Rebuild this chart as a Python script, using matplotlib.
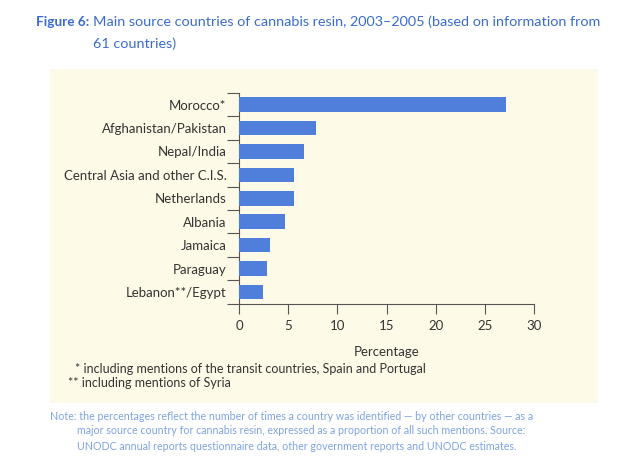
import matplotlib
matplotlib.use("Agg")
import matplotlib.pyplot as plt
from matplotlib.patches import Rectangle
import numpy as np

countries = ["Morocco*", "Afghanistan/Pakistan", "Nepal/India",
             "Central Asia and other C.I.S.", "Netherlands", "Albania",
             "Jamaica", "Paraguay", "Lebanon**/Egypt"]
values = [27.2, 7.8, 6.6, 5.6, 5.6, 4.7, 3.2, 2.8, 2.4]
xticks = [0, 5, 10, 15, 20, 25, 30]

plt.rcParams['font.family'] = ['Lato', 'DejaVu Sans']

W, H = 636, 469
fig = plt.figure(figsize=(W/100, H/100), dpi=100)
fig.patch.set_facecolor('white')

# cream panel in a background axes
bg = fig.add_axes([0, 0, 1, 1], zorder=-10)
bg.set_xlim(0, W)
bg.set_ylim(H, 0)
bg.axis('off')
bg.add_patch(Rectangle((50, 69), 598-50, 403-69, facecolor='#FEFAE8', edgecolor='none'))

ax = fig.add_axes([239/W, 1-303.6/H, (534-239)/W, (303.6-93)/H], zorder=1)
ax.set_facecolor('none')
n = len(countries)
y = np.arange(n)
ax.barh(y, values, height=0.62, color='#4F7FDB', zorder=3)
ax.set_ylim(n-0.5, -0.5)
ax.set_xlim(0, 30)
ax.set_xticks(xticks)
ax.set_xticklabels([str(t) for t in xticks])
ax.set_yticks(y)
ax.set_yticklabels(countries)
ax.set_yticks(np.arange(-0.5, n, 1.0), minor=True)
ax.tick_params(axis='y', which='major', length=0, pad=9, labelsize=9.5, colors='#333333')
ax.tick_params(axis='y', which='minor', length=9, width=0.8, color='#555555')
ax.tick_params(axis='x', length=7, width=0.8, color='#555555', pad=5, labelsize=9.5, labelcolor='#333333')
for s in ['top', 'right']:
    ax.spines[s].set_visible(False)
for s in ['left', 'bottom']:
    ax.spines[s].set_color('#555555')
    ax.spines[s].set_linewidth(0.8)
ax.set_xlabel('Percentage', fontsize=9.5, color='#333333', labelpad=10)

# title
tc = '#3A6CD0'
fig.text(36/W, 1-22/H, 'Figure 6:', fontsize=9.8, fontweight='bold', color=tc, va='center')
fig.text(93/W, 1-22/H, 'Main source countries of cannabis resin, 2003\u20132005 (based on information from',
         fontsize=10.4, color=tc, va='center')
fig.text(93/W, 1-44/H, '61 countries)', fontsize=10.4, color=tc, va='center')

# footnotes
fig.text(75/W, 1-369/H, '* including mentions of the transit countries, Spain and Portugal',
         fontsize=9.0, color='#333333', va='center')
fig.text(68/W, 1-383/H, '** including mentions of Syria', fontsize=9.0, color='#333333', va='center')

nc = '#7FA3E6'
fig.text(50/W, 1-416/H, 'Note: the percentages reflect the number of times a country was identified \u2014 by other countries \u2014 as a',
         fontsize=7.7, color=nc, va='center')
fig.text(77/W, 1-431/H, 'major source country for cannabis resin, expressed as a proportion of all such mentions. Source:',
         fontsize=7.7, color=nc, va='center')
fig.text(77/W, 1-446/H, 'UNODC annual reports questionnaire data, other government reports and UNODC estimates.',
         fontsize=7.7, color=nc, va='center')

fig.savefig('out.png', dpi=100)
